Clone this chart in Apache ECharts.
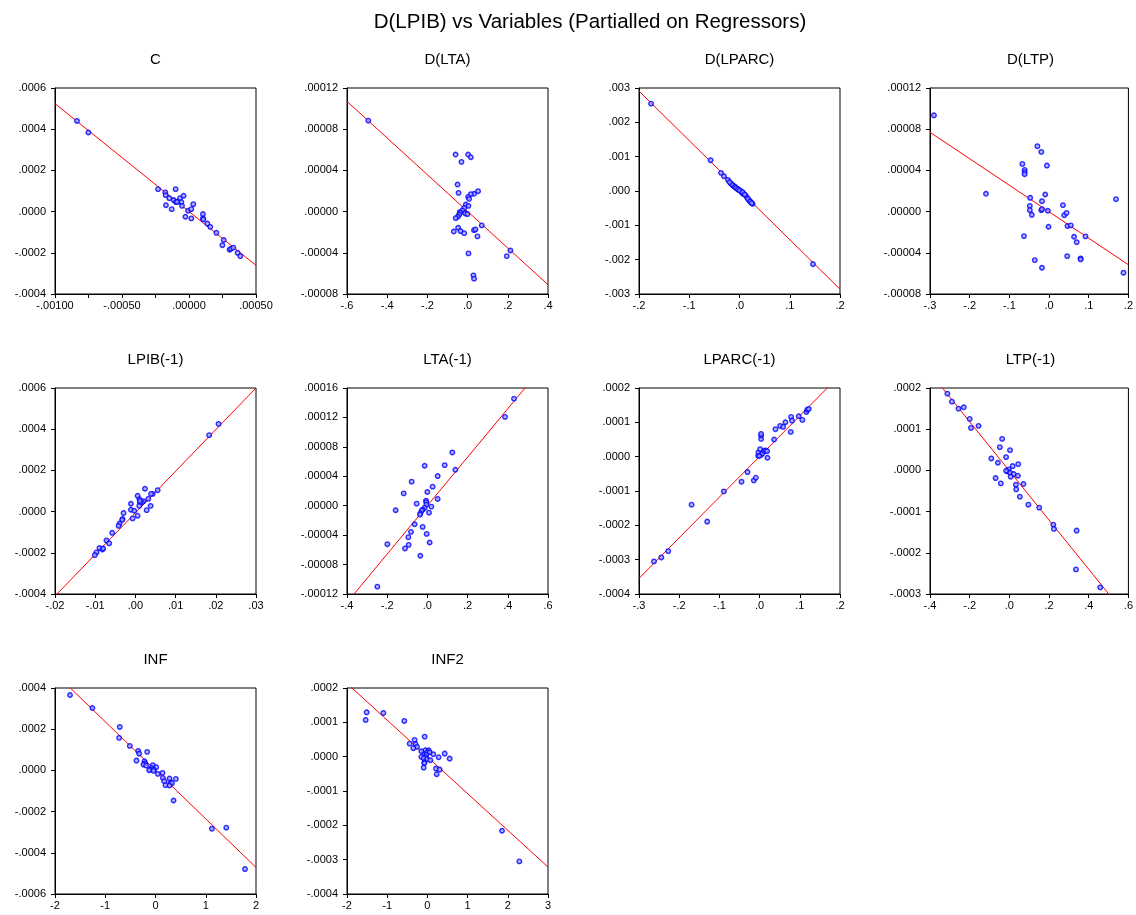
<!DOCTYPE html>
<html>
<head>
<meta charset="utf-8">
<script src="https://cdn.jsdelivr.net/npm/echarts@6/dist/echarts.min.js"></script>
<style>
  html, body { margin: 0; padding: 0; background: #fff; }
  #chart { width: 1136px; height: 915px; }
</style>
</head>
<body>
<div id="chart"></div>
<script>
// Partial regression plots: D(LPIB) against each regressor, both partialled on the others.
const mainTitle = 'D(LPIB) vs Variables (Partialled on Regressors)';
const panelTitles = ['C', 'D(LTA)', 'D(LPARC)', 'D(LTP)', 'LPIB(-1)', 'LTA(-1)', 'LPARC(-1)', 'LTP(-1)', 'INF', 'INF2'];

// Axis ranges, tick steps and label decimals per panel
const xMin = [-0.001, -0.6, -0.2, -0.3, -0.02, -0.4, -0.3, -0.4, -2, -2];
const xMax = [0.0005, 0.4, 0.2, 0.2, 0.03, 0.6, 0.2, 0.6, 2, 3];
const xStep = [0.00025, 0.2, 0.1, 0.1, 0.01, 0.2, 0.1, 0.2, 1, 1];
const xLabelStep = [0.0005, 0.2, 0.1, 0.1, 0.01, 0.2, 0.1, 0.2, 1, 1];
const xDigits = [5, 1, 1, 1, 2, 1, 1, 1, 0, 0];
const yMin = [-0.0004, -0.00008, -0.003, -0.00008, -0.0004, -0.00012, -0.0004, -0.0003, -0.0006, -0.0004];
const yMax = [0.0006, 0.00012, 0.003, 0.00012, 0.0006, 0.00016, 0.0002, 0.0002, 0.0004, 0.0002];
const yStep = [0.0002, 0.00004, 0.001, 0.00004, 0.0002, 0.00004, 0.0001, 0.0001, 0.0002, 0.0001];
const yDigits = [4, 5, 3, 5, 4, 5, 4, 4, 4, 4];

// Fitted lines: [x, y] at each end of the x range
const fitC = [[-0.001, 0.000524], [0.0005, -0.000261]];
const fitDLTA = [[-0.6, 0.000107], [0.4, -0.000071]];
const fitDLPARC = [[-0.2, 0.00291], [0.2, -0.00286]];
const fitDLTP = [[-0.3, 0.000077], [0.2, -0.0000516]];
const fitLPIB1 = [[-0.02, -0.00041], [0.03, 0.0006]];
const fitLTA1 = [[-0.4, -0.0001315], [0.6, 0.0001977]];
const fitLPARC1 = [[-0.3, -0.0003545], [0.2, 0.0002373]];
const fitLTP1 = [[-0.4, 0.0002375], [0.6, -0.0003592]];
const fitINF = [[-2, 0.000472], [2, -0.000471]];
const fitINF2 = [[-2, 0.0002133], [3, -0.0003215]];

// Partialled observations [x, y]
const ptsC = [[-0.000836,0.00044],[-0.000751,0.000384],[-0.000231,0.000109],[-0.0001,0.000109],[-0.000177,0.000093],
  [-0.000174,0.00008],[-0.000147,0.000065],[-0.000172,0.000031],[-0.000129,0.000012],[-0.000114,0.000056],
  [-0.000097,0.000046],[-0.00008,0.000049],[-0.000067,0.000065],[-0.000057,0.000046],[-0.000052,0.000028],
  [-0.00004,0.000077],[-0.000027,-0.000025],[-0.000007,0.000004],[0.000017,0.000012],[0.000017,-0.000033],
  [0.000032,0.000036],[0.000104,-0.000012],[0.000104,-0.000033],[0.000107,-0.000038],[0.000137,-0.000058],
  [0.000159,-0.000074],[0.000204,-0.000103],[0.000259,-0.000138],[0.000249,-0.000163],[0.000303,-0.000185],
  [0.000313,-0.00018],[0.000331,-0.000175],[0.000363,-0.0002],[0.000383,-0.000216],[-0.00009,0.000047]];
const ptsDLTA = [[-0.494,0.0000883],[-0.06,0.0000554],[0.0026,0.0000554],[0.016,0.0000528],[-0.0305,0.0000483],
  [-0.05,0.0000263],[-0.045,0.0000182],[0.052,0.0000198],[0.032,0.0000173],[0.016,0.000017],
  [0.0026,0.0000143],[0.0076,0.0000124],[-0.009,0.0000069],[0.004,0.0000056],[-0.017,0.0000034],
  [-0.027,0.0000011],[-0.039,-0.0000005],[-0.012,-0.0000018],[-0.0009,-0.0000024],[-0.037,-0.0000011],
  [-0.042,-0.000003],[-0.049,-0.000005],[-0.059,-0.0000063],[-0.0686,-0.0000193],[-0.047,-0.0000157],
  [-0.035,-0.0000189],[-0.017,-0.0000209],[0.032,-0.000018],[0.039,-0.0000173],[0.049,-0.0000241],
  [0.0705,-0.0000134],[0.0043,-0.0000406],[0.029,-0.0000619],[0.032,-0.0000651],[0.1947,-0.0000432],
  [0.213,-0.0000377]];
const ptsDLPARC = [[-0.176,0.002544],[-0.0574,0.000897],[-0.0368,0.000528],[-0.0309,0.000431],[-0.0229,0.000325],
  [-0.017,0.000218],[-0.013,0.00016],[-0.009,0.000121],[-0.0056,0.000073],[-0.0017,0.000034],
  [0.0023,0.000005],[0.005,-0.000053],[0.0083,-0.000092],[0.0123,-0.00013],[0.015,-0.000189],
  [0.0189,-0.000266],[0.0222,-0.000315],[0.0262,-0.000373],[0.1462,-0.002128],[-0.011,0.000141],
  [-0.007,0.000092],[-0.003,0.000053],[0.0003,0.000014],[0.0063,-0.000034],[0.0103,-0.000102],
  [0.0169,-0.000228],[0.0209,-0.000305],[0.0242,-0.000354],[-0.0156,0.000199],[-0.0196,0.000257]];
const ptsDLTP = [[-0.29,0.0000935],[-0.1589,0.0000173],[-0.0673,0.0000463],[-0.0615,0.0000405],[-0.0615,0.0000383],
  [-0.0615,0.0000363],[-0.0294,0.0000635],[-0.0195,0.000058],[-0.0054,0.0000447],[-0.0475,0.0000134],
  [-0.0096,0.0000166],[-0.0178,0.0000101],[-0.0484,0.0000056],[-0.0484,0.0000014],[-0.0434,-0.0000031],
  [-0.0195,0.0000014],[-0.0178,0.0000024],[-0.003,0.0000008],[0.035,0.0000063],[0.0383,-0.0000035],
  [0.0441,-0.0000012],[-0.0013,-0.0000147],[0.0465,-0.000014],[0.0548,-0.0000134],[-0.0632,-0.0000238],
  [0.063,-0.0000244],[0.0919,-0.0000241],[0.0697,-0.0000296],[0.0457,-0.0000432],[0.0796,-0.0000454],
  [0.0796,-0.0000464],[-0.036,-0.0000471],[-0.0178,-0.0000545],[0.1687,0.0000121],[0.1876,-0.0000593]];
const ptsLPIB1 = [[0.02068,0.000426],[0.01835,0.000371],[0.00554,0.000104],[0.00238,0.000111],[0.00429,0.000086],
  [0.00388,0.000086],[0.00055,0.000077],[0.00321,0.000062],[0.001,0.00006],[0.002,0.000051],
  [0.00163,0.000044],[0.00113,0.000044],[-0.00112,0.000038],[0.00379,0.000028],[0.00096,0.000028],
  [-0.00112,0.000009],[-0.00028,0.000004],[0.0028,0.000007],[-0.00295,-0.000007],[0.00055,-0.00002],
  [-0.0007,-0.000033],[-0.0032,-0.000036],[-0.00328,-0.00004],[-0.00394,-0.000058],[-0.00419,-0.000069],
  [-0.00577,-0.000103],[-0.00719,-0.00014],[-0.00652,-0.000154],[-0.00894,-0.000177],[-0.00819,-0.000184],
  [-0.00802,-0.000179],[-0.00968,-0.000198],[-0.0101,-0.000211],[0.00113,0.000052]];
const ptsLTA1 = [[0.4309,0.0001455],[0.386,0.0001207],[0.124,0.0000724],[0.086,0.0000552],[-0.0136,0.0000543],
  [0.139,0.0000489],[0.051,0.0000403],[-0.0783,0.0000327],[0.026,0.0000259],[-0.118,0.0000168],
  [-0.0003,0.0000187],[-0.007,0.0000069],[-0.0053,0.0000047],[0.051,0.0000092],[-0.0534,0.0000028],
  [-0.0053,0.0000015],[0.0196,-0.0000012],[-0.0136,-0.000003],[-0.0236,-0.0000053],[-0.0285,-0.0000066],
  [-0.158,-0.0000062],[0.008,-0.0000094],[-0.035,-0.0000103],[-0.0368,-0.0000121],[-0.0634,-0.0000252],
  [-0.0236,-0.0000288],[-0.0816,-0.0000355],[-0.0036,-0.0000383],[-0.0949,-0.0000428],[-0.1993,-0.0000523],
  [-0.0932,-0.0000532],[0.0113,-0.00005],[-0.1114,-0.0000581],[-0.0352,-0.000068],[-0.249,-0.00011]];
const ptsLPARC1 = [[-0.2627,-0.0003051],[-0.2445,-0.0002935],[-0.2272,-0.0002751],[-0.1692,-0.0001397],[-0.1303,-0.000189],
  [-0.0889,-0.000101],[-0.045,-0.0000729],[-0.0301,-0.0000448],[-0.0144,-0.000069],[-0.0094,-0.0000613],
  [-0.0036,0.0000026],[-0.0028,0.0000123],[0.0013,0.0000219],[0.0038,0.0000519],[0.0038,0.0000616],
  [0.0038,0.0000665],[0.003,0.0000045],[0.0071,0.0000094],[0.0113,0.0000171],[0.0154,0.000018],
  [0.0187,0.0000161],[0.0195,-0.0000032],[0.0361,0.00005],[0.0394,0.00008],[0.051,0.0000897],
  [0.0584,0.0000868],[0.0642,0.0001003],[0.0775,0.0000722],[0.0783,0.0001158],[0.0808,0.0001052],
  [0.0973,0.0001177],[0.1064,0.0001071],[0.1164,0.0001303],[0.1189,0.0001371],[0.1222,0.000139],
  [-0.001,0.000002]];
const ptsLTP1 = [[-0.3124,0.0001863],[-0.2893,0.0001669],[-0.2562,0.00015],[-0.2298,0.0001532],[-0.2,0.000125],
  [-0.1934,0.0001032],[-0.1554,0.0001081],[-0.0364,0.0000766],[-0.048,0.0000564],[0.0033,0.0000492],
  [-0.0909,0.000029],[-0.0165,0.0000323],[-0.0579,0.0000185],[0.0446,0.0000153],[0.0165,0.0000105],
  [-0.0033,0.0000024],[-0.0099,-0.0000024],[0.0033,-0.0000056],[0.0215,-0.0000089],[0.0066,-0.0000153],
  [0.043,-0.0000129],[-0.0694,-0.0000186],[-0.043,-0.0000315],[0.0331,-0.0000347],[0.0711,-0.0000331],
  [0.0347,-0.000046],[0.0529,-0.0000637],[0.0959,-0.0000831],[0.1504,-0.0000903],[0.2215,-0.0001315],
  [0.2248,-0.000142],[0.3389,-0.000146],[0.3356,-0.0002403],[0.4579,-0.0002839],[-0.0165,-0.0000008]];
const ptsINF = [[-1.701,0.000366],[-1.256,0.000303],[-0.711,0.000211],[-0.724,0.000158],[-0.511,0.000119],
  [-0.345,0.0000947],[-0.166,0.00009],[-0.325,0.0000818],[-0.379,0.0000478],[-0.219,0.0000446],
  [-0.206,0.0000349],[-0.239,0.0000284],[-0.186,0.0000236],[-0.053,0.0000253],[-0.08,0.0000123],
  [0.0134,0.0000155],[-0.106,0.0000042],[-0.033,0.0000042],[-0.126,0.000001],[-0.04,-0.0000023],
  [0.0467,-0.0000168],[0.1397,-0.000012],[0.146,-0.0000362],[0.173,-0.0000523],[0.2,-0.0000717],
  [0.279,-0.0000394],[0.405,-0.000041],[0.306,-0.0000588],[0.326,-0.000062],[0.279,-0.0000733],
  [0.359,-0.000146],[1.123,-0.000283],[1.409,-0.000278],[1.781,-0.000479]];
const ptsINF2 = [[-1.536,0.000107],[-1.511,0.0001292],[-1.096,0.0001273],[-0.574,0.000104],[-0.068,0.0000585],
  [-0.317,0.0000488],[-0.441,0.0000381],[-0.292,0.0000362],[-0.259,0.0000284],[-0.35,0.0000246],
  [-0.051,0.0000187],[0.031,0.0000187],[-0.151,0.0000158],[-0.002,0.0000129],[0.0564,0.0000129],
  [0.148,0.0000071],[0.43,0.0000091],[-0.076,0.0000071],[-0.027,0.0000052],[-0.151,-0.0000006],
  [-0.043,-0.0000016],[0.28,-0.0000016],[0.554,-0.0000055],[-0.093,-0.0000045],[-0.01,-0.0000074],
  [0.073,-0.0000103],[-0.076,-0.0000162],[-0.076,-0.0000191],[-0.093,-0.0000317],[0.214,-0.0000346],
  [0.305,-0.0000375],[0.231,-0.0000511],[1.856,-0.0002158],[2.287,-0.000305]];

const fits = [fitC, fitDLTA, fitDLPARC, fitDLTP, fitLPIB1, fitLTA1, fitLPARC1, fitLTP1, fitINF, fitINF2];
const points = [ptsC, ptsDLTA, ptsDLPARC, ptsDLTP, ptsLPIB1, ptsLTA1, ptsLPARC1, ptsLTP1, ptsINF, ptsINF2];

const FONT = '"Liberation Sans", Arial, sans-serif';

// Number labels without the leading zero (".0004", "-.10")
function fmt(v, digits) {
  if (Math.abs(v) < 1e-12) v = 0;
  let s = v.toFixed(digits);
  if (s.indexOf('-') === 0 && Number(s) === 0) s = s.slice(1);
  return s.replace(/^(-?)0\./, '$1.');
}

const colLeft = [55, 347, 639, 930];
const rowTop = [88, 388, 688];
const plotW = 201, plotH = 206;

const grids = [], xAxes = [], yAxes = [], series = [], titles = [];
titles.push({
  text: mainTitle, left: 590, top: 12, textAlign: 'center', padding: 0,
  textStyle: { fontFamily: FONT, fontSize: 20.5, fontWeight: 'normal', color: '#000' }
});

for (let i = 0; i < panelTitles.length; i++) {
  const left = colLeft[i % 4];
  const top = rowTop[Math.floor(i / 4)];
  grids.push({ left: left, top: top, width: plotW, height: plotH, show: true,
    borderColor: '#000', borderWidth: 1, backgroundColor: '#fff', containLabel: false });
  titles.push({
    text: panelTitles[i], left: left + plotW / 2, top: top - 36, textAlign: 'center', padding: 0,
    textStyle: { fontFamily: FONT, fontSize: 15, fontWeight: 'normal', color: '#000' }
  });
  const xd = xDigits[i], ls = xLabelStep[i], yd = yDigits[i];
  xAxes.push({
    type: 'value', gridIndex: i, min: xMin[i], max: xMax[i], interval: xStep[i],
    axisLine: { show: true, onZero: false, lineStyle: { color: '#000', width: 1 } },
    axisTick: { show: true, inside: false, length: 4, lineStyle: { color: '#000' } },
    splitLine: { show: false },
    axisLabel: {
      margin: 6, fontFamily: FONT, fontSize: 11, color: '#000', showMinLabel: true, showMaxLabel: true,
      formatter: function (v) {
        const r = v / ls;
        if (Math.abs(r - Math.round(r)) > 1e-6) return '';
        return fmt(v, xd);
      }
    }
  });
  yAxes.push({
    type: 'value', gridIndex: i, min: yMin[i], max: yMax[i], interval: yStep[i],
    axisLine: { show: true, onZero: false, lineStyle: { color: '#000', width: 1 } },
    axisTick: { show: true, inside: false, length: 4, lineStyle: { color: '#000' } },
    splitLine: { show: false },
    axisLabel: {
      margin: 9, fontFamily: FONT, fontSize: 11, color: '#000', showMinLabel: true, showMaxLabel: true,
      formatter: function (v) { return fmt(v, yd); }
    }
  });
  series.push({
    type: 'line', xAxisIndex: i, yAxisIndex: i, data: fits[i], clip: true,
    symbol: 'none', silent: true, animation: false,
    lineStyle: { color: '#ff0000', width: 1 }, z: 2
  });
  series.push({
    type: 'scatter', xAxisIndex: i, yAxisIndex: i, data: points[i], clip: true,
    symbol: 'circle', symbolSize: 4.5, animation: false,
    itemStyle: { color: '#a0a0ff', borderColor: '#0000ff', borderWidth: 1.4 }, z: 3
  });
}

const chart = echarts.init(document.getElementById('chart'), null, { renderer: 'canvas' });
chart.setOption({
  backgroundColor: '#ffffff',
  animation: false,
  title: titles,
  grid: grids,
  xAxis: xAxes,
  yAxis: yAxes,
  series: series
});
</script>
</body>
</html>
